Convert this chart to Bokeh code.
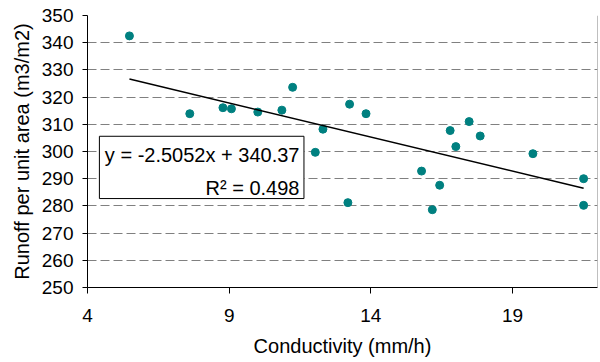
from bokeh.plotting import figure
from bokeh.models import FixedTicker, BoxAnnotation, Label, Span
from bokeh.embed import file_html
from bokeh.resources import INLINE

# Data
conductivity = [5.48, 7.61, 8.78, 9.08, 10.01, 10.86, 11.24, 12.04, 12.31, 13.19,
                13.25, 13.83, 15.79, 16.17, 16.43, 16.80, 17.00, 17.47, 17.86,
                19.72, 21.51, 21.51]
runoff = [342.5, 313.9, 316.1, 315.7, 314.5, 315.2, 323.6, 299.7, 308.2, 281.2,
          317.4, 313.9, 292.8, 278.6, 287.6, 307.7, 301.8, 311.0, 305.7,
          299.2, 290.0, 280.2]
slope = -2.5052
intercept = 340.37
r_squared = 0.498
x_ticks = [4, 9, 14, 19]
y_ticks = [250, 260, 270, 280, 290, 300, 310, 320, 330, 340, 350]

FONT = "Liberation Sans"

p = figure(frame_width=510, frame_height=272,
           min_border_left=87, min_border_right=3, min_border_top=15, min_border_bottom=75,
           x_range=(4, 22), y_range=(250, 350),
           output_backend="svg", toolbar_location=None)
p.outline_line_color = None
p.background_fill_color = "white"

# Grid
p.xgrid.grid_line_color = None
p.ygrid.grid_line_color = "#808080"
p.ygrid.grid_line_dash = "9 4"
p.ygrid.grid_line_width = 1
p.ygrid.ticker = FixedTicker(ticks=y_ticks)

# Axes
p.xaxis.ticker = FixedTicker(ticks=x_ticks)
p.yaxis.ticker = FixedTicker(ticks=y_ticks)
for ax in (p.xaxis[0], p.yaxis[0]):
    ax.axis_line_color = "black"
    ax.axis_line_width = 1
    ax.major_tick_line_color = "black"
    ax.major_tick_in = 0
    ax.minor_tick_line_color = None
    ax.major_label_text_font = FONT
    ax.major_label_text_font_size = "19px"
    ax.major_label_text_color = "black"
    ax.axis_label_text_font = FONT
    ax.axis_label_text_font_size = "20px"
    ax.axis_label_text_font_style = "normal"
    ax.axis_label_text_color = "black"

p.xaxis.major_tick_out = 6
p.xaxis.major_label_standoff = 15
p.xaxis.axis_label_standoff = 10
p.xaxis.axis_label = "Conductivity (mm/h)"

p.yaxis.major_tick_out = 5
p.yaxis.major_label_standoff = 9
p.yaxis.axis_label_standoff = 6
p.yaxis.axis_label = "Runoff per unit area (m3/m2)"

# Right border
p.add_layout(Span(location=22, dimension="height", line_color="#808080", line_width=1))

# Scatter points
p.scatter(conductivity, runoff, size=8, color="#008080", line_color="#008080")

# Linear trend line
x_min, x_max = min(conductivity), max(conductivity)
p.line([x_min, x_max], [slope * x_min + intercept, slope * x_max + intercept],
       line_color="black", line_width=1.5)

# Equation box
p.add_layout(BoxAnnotation(left=4.42, right=11.64, bottom=282.7, top=305.6,
                           fill_color="white", fill_alpha=1.0,
                           line_color="black", line_alpha=1.0, line_width=1))
p.add_layout(Label(x=11.48, y=298.6, text=f"y = {slope}x + {intercept}",
                   text_align="right", text_baseline="alphabetic",
                   text_font=FONT, text_font_size="20px", text_color="black"))
p.add_layout(Label(x=11.48, y=286.4, text=f"R\u00b2 = {r_squared}",
                   text_align="right", text_baseline="alphabetic",
                   text_font=FONT, text_font_size="20px", text_color="black"))

open("out.html", "w").write(file_html(p, INLINE))
